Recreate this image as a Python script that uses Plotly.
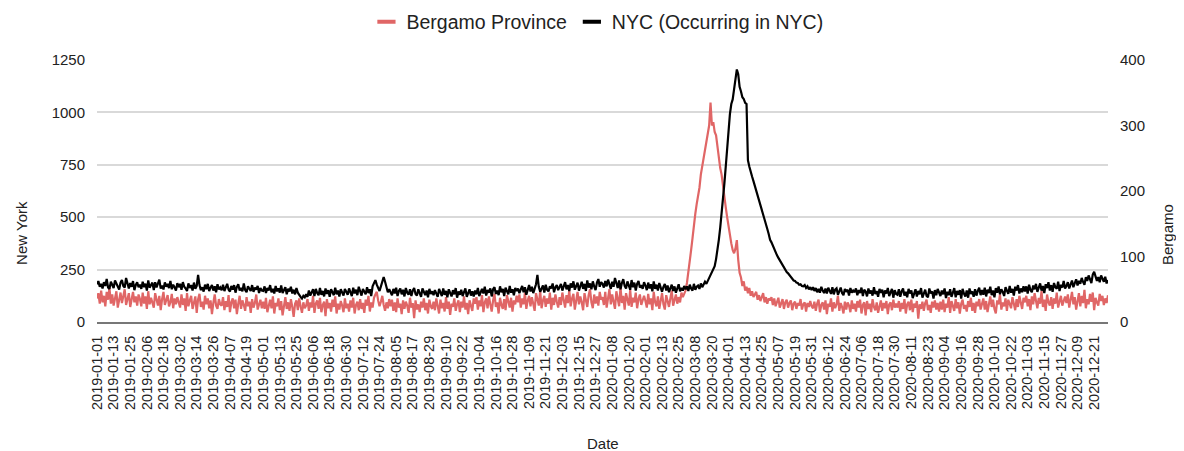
"""
График смертности: провинция Бергамо и Нью-Йорк, 2019-2020
"""

import pandas as pd
import plotly.graph_objects as go

# Нью-Йорк, смертей в день, 2019
nyc_2019 = [
    # янв
    180, 195, 168, 182, 160, 190, 172, 205, 165, 158,
    192, 176, 162, 198, 181, 170, 155, 188, 200, 172,
    164, 210, 178, 160, 186, 168, 195, 152, 177, 190,
    166,
    # фев
    178, 158, 192, 166, 183, 150, 198, 164, 176, 188,
    152, 190, 165, 180, 202, 160, 174, 155, 189, 168,
    182, 162, 196, 156, 178, 166, 150, 185,
    # мар
    166, 182, 154, 190, 168, 160, 148, 184, 162, 176,
    150, 188, 158, 172, 225, 176, 152, 166, 145, 178,
    156, 182, 148, 164, 176, 150, 170, 142, 180, 155,
    165,
    # апр
    152, 178, 148, 166, 182, 155, 145, 172, 154, 176,
    140, 168, 180, 150, 162, 146, 184, 152, 142, 170,
    158, 148, 176, 144, 164, 154, 172, 138, 162, 150,
    # май
    148, 170, 138, 162, 150, 176, 142, 158, 136, 172,
    146, 160, 140, 174, 138, 156, 166, 132, 158, 146,
    168, 136, 154, 132, 162, 140, 128, 120, 112, 125,
    118,
    # июн
    132, 120, 150, 126, 142, 156, 124, 158, 138, 128,
    162, 130, 148, 122, 160, 134, 152, 120, 156, 140,
    128, 164, 132, 150, 122, 156, 138, 126, 158, 142,
    # июл
    130, 160, 144, 124, 164, 136, 154, 128, 168, 140,
    126, 158, 146, 132, 166, 138, 156, 124, 170, 190,
    200, 178, 160, 148, 170, 188, 215, 192, 162, 142,
    156,
    # авг
    144, 128, 158, 136, 164, 124, 148, 160, 132, 154,
    122, 162, 140, 130, 156, 124, 150, 162, 134, 126,
    156, 142, 120, 160, 138, 128, 150, 118, 158, 134,
    146,
    # сен
    128, 152, 136, 120, 158, 140, 124, 160, 130, 148,
    118, 156, 138, 122, 152, 132, 162, 116, 146, 130,
    154, 124, 142, 160, 120, 136, 156, 126, 146, 122,
    # окт
    150, 132, 162, 124, 146, 158, 136, 168, 126, 152,
    140, 160, 122, 156, 166, 134, 150, 128, 170, 142,
    158, 124, 164, 146, 132, 172, 140, 156, 128, 162,
    148,
    # ноя
    160, 138, 156, 172, 142, 166, 130, 158, 176, 146,
    168, 138, 162, 180, 225, 168, 144, 164, 174, 140,
    178, 154, 146, 170, 160, 184, 142, 166, 176, 152,
    # дек
    166, 182, 150, 172, 190, 156, 176, 148, 184, 164,
    194, 154, 172, 188, 150, 178, 192, 158, 182, 148,
    198, 164, 184, 156, 194, 170, 152, 188, 205, 168,
    190,
]

# Нью-Йорк, смертей в день, 2020
nyc_2020 = [
    # янв
    182, 164, 196, 170, 202, 176, 158, 192, 168, 210,
    180, 162, 198, 156, 186, 204, 172, 160, 194, 178,
    154, 200, 166, 188, 150, 182, 196, 164, 176, 158,
    190,
    # фев
    174, 152, 188, 160, 180, 146, 194, 158, 178, 150,
    186, 164, 144, 168, 182, 150, 174, 142, 160, 178,
    148, 170, 140, 164, 180, 146, 162, 150, 172,
    # мар
    156, 170, 148, 178, 160, 150, 182, 154, 168, 174,
    158, 184, 166, 180, 192, 182, 196, 204, 218, 236,
    252, 266, 300, 340, 392, 450, 512, 580, 660, 742,
    840,
    # апр
    930, 992, 1040, 1062, 1110, 1170, 1205, 1182, 1122, 1100,
    1072, 1064, 1046, 1040, 772, 742, 712, 694, 672, 650,
    622, 604, 582, 562, 542, 522, 492, 470, 444, 420,
    # май
    392, 380, 362, 350, 336, 318, 306, 294, 284, 268,
    260, 248, 238, 232, 224, 212, 206, 198, 196, 188,
    186, 178, 180, 172, 170, 176, 162, 170, 156, 166,
    152,
    # июн
    166, 148, 162, 142, 158, 140, 168, 150, 138, 160,
    136, 164, 146, 134, 166, 132, 154, 160, 130, 152,
    164, 138, 128, 158, 144, 154, 126, 162, 140, 150,
    # июл
    142, 160, 128, 152, 138, 164, 124, 154, 146, 122,
    160, 136, 150, 126, 166, 134, 148, 120, 158, 140,
    154, 118, 150, 136, 162, 124, 146, 158, 116, 152,
    134,
    # авг
    130, 156, 120, 146, 160, 126, 144, 118, 158, 136,
    150, 114, 142, 156, 122, 148, 132, 162, 116, 142,
    154, 124, 118, 160, 136, 146, 112, 152, 128, 158,
    136,
    # сен
    124, 150, 132, 160, 114, 144, 128, 156, 120, 140,
    162, 118, 148, 130, 152, 112, 158, 136, 122, 150,
    116, 160, 134, 146, 120, 156, 126, 148, 164, 128,
    # окт
    152, 130, 164, 122, 154, 138, 168, 128, 150, 118,
    162, 140, 170, 132, 156, 144, 124, 166, 148, 134,
    172, 140, 158, 126, 168, 150, 176, 136, 160, 142,
    170,
    # ноя
    146, 170, 136, 178, 152, 142, 174, 156, 182, 144,
    164, 184, 150, 172, 138, 180, 162, 190, 150, 176,
    144, 186, 166, 158, 192, 148, 178, 164, 196, 160,
    # дек
    172, 190, 160, 182, 198, 166, 188, 204, 174, 196,
    182, 210, 192, 178, 214, 196, 222, 200, 186, 226,
    240, 218, 196, 214, 190, 222, 204, 192, 216, 184,
    200,
]

# Провинция Бергамо, смертей в день, 2019
bergamo_2019 = [
    # янв
    36, 44, 28, 48, 30, 40, 24, 46, 34, 52,
    28, 42, 25, 38, 47, 22, 35, 45, 29, 40,
    50, 26, 37, 44, 23, 33, 46, 30, 39, 25,
    42,
    # фев
    35, 24, 45, 28, 39, 20, 47, 27, 37, 31,
    22, 44, 33, 25, 40, 18, 35, 46, 26, 32,
    41, 24, 30, 43, 21, 36, 27, 38,
    # мар
    31, 22, 42, 26, 36, 17, 44, 24, 33, 40,
    20, 29, 39, 14, 35, 43, 23, 31, 19, 40,
    27, 36, 21, 33, 12, 29, 42, 25, 20, 35,
    27,
    # апр
    25, 38, 18, 32, 23, 41, 15, 30, 36, 21,
    34, 12, 28, 40, 20, 33, 26, 17, 38, 24,
    31, 14, 35, 22, 29, 42, 19, 27, 34, 21,
    # май
    31, 20, 37, 15, 27, 34, 21, 39, 13, 29,
    24, 36, 18, 32, 10, 27, 38, 20, 30, 17,
    35, 23, 8, 28, 33, 18, 36, 24, 14, 30,
    21,
    # июн
    25, 35, 17, 30, 22, 40, 14, 28, 33, 20,
    37, 15, 26, 31, 9, 35, 21, 29, 16, 34,
    23, 39, 13, 28, 19, 32, 25, 15, 36, 21,
    # июл
    28, 16, 33, 22, 37, 13, 26, 31, 18, 35,
    20, 29, 14, 34, 25, 40, 16, 30, 22, 37,
    42, 46, 33, 24, 31, 40, 26, 17, 30, 21,
    35,
    # авг
    24, 34, 17, 30, 15, 36, 22, 28, 12, 33,
    20, 31, 25, 14, 37, 22, 29, 6, 33, 19,
    27, 15, 31, 22, 36, 18, 29, 13, 34, 24,
    20,
    # сен
    31, 18, 36, 24, 13, 34, 21, 29, 16, 38,
    20, 31, 11, 28, 23, 36, 17, 27, 33, 15,
    31, 22, 39, 19, 29, 12, 33, 25, 17, 36,
    # окт
    28, 38, 19, 33, 24, 41, 15, 30, 36, 21,
    39, 27, 16, 33, 43, 23, 30, 13, 37, 26,
    20, 35, 18, 41, 29, 22, 37, 16, 33, 27,
    40,
    # ноя
    30, 42, 22, 36, 27, 45, 20, 33, 40, 24,
    38, 28, 17, 44, 34, 25, 48, 21, 33, 40,
    23, 36, 28, 45, 19, 37, 26, 42, 31, 22,
    # дек
    38, 26, 45, 33, 22, 41, 29, 48, 24, 36,
    43, 19, 34, 46, 27, 39, 30, 18, 44, 35,
    23, 41, 50, 30, 21, 42, 28, 39, 25, 46,
    34,
]

# Провинция Бергамо, смертей в день, 2020
bergamo_2020 = [
    # янв
    38, 26, 46, 22, 36, 50, 27, 42, 31, 20,
    47, 34, 24, 53, 29, 40, 19, 44, 33, 25,
    49, 23, 37, 30, 45, 21, 35, 42, 26, 33,
    40,
    # фев
    32, 22, 43, 27, 36, 18, 46, 30, 24, 39,
    20, 34, 44, 27, 19, 41, 31, 23, 36, 48,
    25, 33, 42, 28, 38, 30, 45, 38, 44,
    # мар
    48, 60, 75, 92, 110, 128, 150, 165, 180, 192,
    205, 225, 238, 250, 260, 270, 285, 300, 335, 300,
    305, 290, 285, 265, 250, 235, 225, 205, 190, 175,
    160,
    # апр
    145, 130, 120, 110, 105, 112, 125, 95, 75, 68,
    55, 62, 48, 54, 44, 52, 40, 47, 38, 42,
    46, 34, 41, 32, 40, 44, 30, 38, 28, 36,
    # май
    33, 38, 26, 36, 24, 32, 37, 22, 31, 35,
    20, 30, 34, 22, 29, 33, 18, 28, 31, 20,
    29, 25, 35, 19, 27, 30, 16, 29, 23, 32,
    24,
    # июн
    21, 31, 17, 28, 34, 15, 26, 30, 19, 33,
    12, 28, 23, 36, 16, 30, 21, 27, 40, 17,
    29, 23, 13, 31, 19, 30, 25, 15, 33, 20,
    # июл
    28, 16, 32, 22, 34, 13, 26, 30, 10, 32,
    20, 28, 15, 35, 23, 18, 30, 14, 27, 33,
    17, 29, 21, 32, 12, 27, 30, 18, 34, 22,
    28,
    # авг
    22, 32, 16, 29, 20, 35, 13, 27, 31, 18,
    34, 15, 28, 22, 32, 5, 27, 20, 31, 17,
    29, 34, 18, 26, 14, 31, 22, 33, 19, 29,
    16,
    # сен
    31, 19, 34, 15, 28, 22, 38, 14, 32, 25,
    17, 35, 21, 30, 13, 28, 34, 20, 26, 16,
    32, 23, 37, 17, 29, 14, 31, 24, 35, 19,
    # окт
    28, 36, 19, 32, 15, 30, 39, 23, 34, 20,
    13, 33, 27, 42, 19, 30, 24, 36, 17, 34,
    26, 21, 38, 29, 18, 35, 23, 40, 31, 20,
    37,
    # ноя
    30, 40, 24, 35, 18, 39, 27, 44, 31, 21,
    37, 28, 47, 23, 34, 17, 42, 30, 25, 38,
    20, 36, 28, 45, 22, 34, 40, 25, 31, 39,
    # дек
    29, 42, 22, 35, 46, 27, 38, 19, 33, 44,
    24, 40, 29, 49, 21, 35, 27, 43, 31, 45,
    18, 37, 30, 25, 43, 32, 40, 26, 36, 29,
    41,
]

nyc = nyc_2019 + nyc_2020
bergamo = bergamo_2019 + bergamo_2020
dates = pd.date_range("2019-01-01", periods=len(nyc), freq="D")

# Подписи оси X: каждые 12 дней
tick_dates = pd.date_range("2019-01-01", "2020-12-31", freq="12D")
tick_labels = [d.strftime("%Y-%m-%d") for d in tick_dates]

RED = "#e06666"
FONT = "Liberation Sans, Arial, sans-serif"

fig = go.Figure()

# Бергамо (правая ось)
fig.add_trace(go.Scatter(
    x=dates, y=bergamo, mode="lines", name="Bergamo Province",
    line=dict(color=RED, width=2.2), yaxis="y", showlegend=False,
))

# Нью-Йорк (левая ось, поверх)
fig.add_trace(go.Scatter(
    x=dates, y=nyc, mode="lines", name="NYC (Occurring in NYC)",
    line=dict(color="#000000", width=2.2), yaxis="y2", showlegend=False,
))

# Короткие значки для легенды
for name, color in [("Bergamo Province", RED), ("NYC (Occurring in NYC)", "#000000")]:
    fig.add_trace(go.Scatter(
        x=[None], y=[None], mode="markers", name=name,
        marker=dict(symbol="line-ew", size=13, line=dict(color=color, width=4)),
    ))

# Страница имеет отступ 8px, поэтому фигура чуть меньше окна
fig.update_layout(
    width=1176,
    height=443,
    margin=dict(l=89, r=76, t=52, b=129, autoexpand=False),
    paper_bgcolor="white",
    plot_bgcolor="white",
    font=dict(family=FONT, size=15, color="#222222"),
    showlegend=True,
    legend=dict(
        orientation="h", x=0.495, xanchor="center",
        yref="container", y=0.968, yanchor="middle",
        font=dict(size=19.5, color="#222222"), itemwidth=30,
    ),
    xaxis=dict(
        type="date",
        range=["2019-01-01", "2020-12-31"],
        tickvals=list(tick_dates), ticktext=tick_labels,
        tickangle=-90, tickfont=dict(size=14.5),
        ticks="outside", ticklen=6, tickcolor="rgba(0,0,0,0)",
        showgrid=False, showline=True, linecolor="#777777", linewidth=2,
        zeroline=False, automargin=False,
    ),
    yaxis=dict(
        side="right", range=[0, 400], tickvals=[0, 100, 200, 300, 400],
        showgrid=False, zeroline=False, tickfont=dict(size=15),
        ticks="outside", ticklen=8, tickcolor="rgba(0,0,0,0)",
        automargin=False,
    ),
    yaxis2=dict(
        side="left", overlaying="y", range=[0, 1250],
        tickvals=[0, 250, 500, 750, 1000, 1250],
        showgrid=True, gridcolor="#d9d9d9", gridwidth=1.5, zeroline=False,
        tickfont=dict(size=15),
        ticks="outside", ticklen=8, tickcolor="rgba(0,0,0,0)",
        automargin=False,
    ),
    annotations=[
        dict(text="New York", x=-0.0742, y=0.34, xref="paper", yref="paper",
             textangle=-90, showarrow=False, xanchor="center", yanchor="middle",
             font=dict(size=15)),
        dict(text="Bergamo", x=1.0584, y=0.332, xref="paper", yref="paper",
             textangle=-90, showarrow=False, xanchor="center", yanchor="middle",
             font=dict(size=15)),
        dict(text="Date", x=0.5, y=-0.462, xref="paper", yref="paper",
             showarrow=False, xanchor="center", yanchor="middle",
             font=dict(size=15)),
    ],
)

fig.write_html("out.html")
